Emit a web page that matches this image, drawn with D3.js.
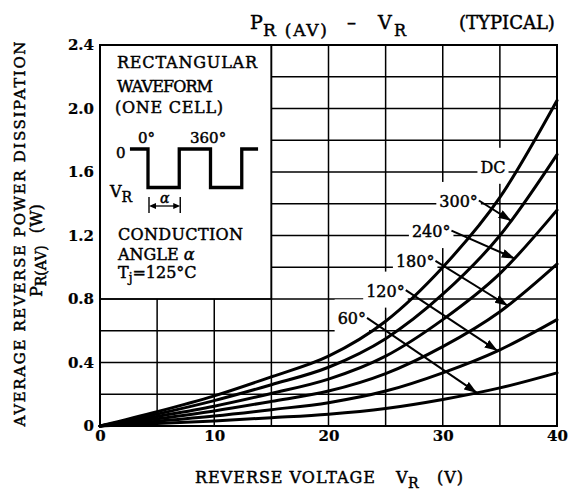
<!DOCTYPE html>
<html><head><meta charset="utf-8">
<script src="https://cdn.jsdelivr.net/npm/d3@7"></script>
<style>
body{margin:0;background:#fff}
svg{display:block}
text{font-family:"DejaVu Serif",serif;fill:#000;stroke:#000;stroke-width:0.45px}
</style>
</head><body>
<svg id="c" width="572" height="498"></svg>
<script>
// ---------- data ----------
const voltages = [0, 5, 10, 15, 20, 25, 30, 35, 40];
const seriesNames = ["DC", "300°", "240°", "180°", "120°", "60°"];
const pDC   = [0, 0.09, 0.19, 0.31, 0.44, 0.66, 1.00, 1.44, 2.05];
const p300  = [0, 0.075, 0.16, 0.26, 0.37, 0.55, 0.83, 1.20, 1.71];
const p240  = [0, 0.06, 0.125, 0.205, 0.295, 0.44, 0.67, 0.96, 1.36];
const p180  = [0, 0.045, 0.095, 0.155, 0.22, 0.33, 0.50, 0.72, 1.02];
const p120  = [0, 0.03, 0.063, 0.103, 0.147, 0.22, 0.335, 0.48, 0.67];
const p60   = [0, 0.015, 0.032, 0.052, 0.074, 0.11, 0.167, 0.24, 0.335];
const seriesValues = [pDC, p300, p240, p180, p120, p60];

const xTicks = [0, 10, 20, 30, 40];
const xTickLabels = ["0", "10", "20", "30", "40"];
const yTicks = [0, 0.4, 0.8, 1.2, 1.6, 2.0, 2.4];
const yTickLabels = ["0", "0.4", "0.8", "1.2", "1.6", "2.0", "2.4"];

// curve labels: text start (V), baseline (W), arrow target voltage on the curve
const labelV = [33.3, 29.7, 27.3, 25.9, 23.3, 20.8];
const labelP = [1.595, 1.38, 1.19, 1.0, 0.815, 0.64];
const arrowTargetV = [null, 36.0, 36.3, 35.7, 34.8, 33.0];

// ---------- chart ----------
const svg = d3.select("#c");
svg.append("rect").attr("width", 572).attr("height", 498).attr("fill", "#fff");

const x = d3.scaleLinear().domain([0, 40]).range([100, 557]);
const y = d3.scaleLinear().domain([0, 2.4]).range([426, 45]);
const insetV = 15, insetP = 0.8;

// grid
const grid = svg.append("g").attr("stroke", "#000").attr("stroke-width", 1.5);
d3.range(1, 8).map(i => i * 5).forEach(v => {
  const top = v < insetV ? y(insetP) : y(2.4);
  grid.append("line").attr("x1", x(v)).attr("x2", x(v)).attr("y1", top).attr("y2", y(0));
});
d3.range(1, 12).map(i => +(i * 0.2).toFixed(1)).forEach(p => {
  const left = p > insetP + 1e-9 ? x(insetV) : x(0);
  grid.append("line").attr("x1", left).attr("x2", x(40)).attr("y1", y(p)).attr("y2", y(p));
});

// axes (labels only)
const yAxis = svg.append("g").attr("transform", `translate(${x(0) - 6},0)`)
  .call(d3.axisLeft(y).tickValues(yTicks).tickFormat((d, i) => yTickLabels[i]).tickSize(0));
yAxis.select(".domain").remove();
yAxis.selectAll("text").attr("font-family", "DejaVu Serif").attr("font-size", 15)
  .attr("font-weight", "bold").attr("dy", "0.3em").attr("x", 0).style("stroke-width", "0.2px");

const xAxis = svg.append("g").attr("transform", `translate(0,${y(0) + 4})`)
  .call(d3.axisBottom(x).tickValues(xTicks).tickFormat((d, i) => xTickLabels[i]).tickSize(0));
xAxis.select(".domain").remove();
xAxis.selectAll("text").attr("font-family", "DejaVu Serif").attr("font-size", 15)
  .attr("font-weight", "bold").attr("dy", "0.71em").attr("y", 0).style("stroke-width", "0.2px");

// label backgrounds + curves + labels
const labelG = svg.append("g");
const curveG = svg.append("g");
const textG = svg.append("g");

const line = d3.line().x((d, i) => x(voltages[i])).y(d => y(d)).curve(d3.curveMonotoneX);
const paths = seriesValues.map(vals =>
  curveG.append("path").attr("d", line(vals)).attr("fill", "none")
    .attr("stroke", "#000").attr("stroke-width", 3).attr("stroke-linecap", "round"));

// plot frame and inset frame
svg.append("rect").attr("x", x(0)).attr("y", y(2.4)).attr("width", x(40) - x(0)).attr("height", y(0) - y(2.4))
  .attr("fill", "none").attr("stroke", "#000").attr("stroke-width", 2);
svg.append("path").attr("d", `M${x(insetV)},${y(2.4)}V${y(insetP)}H${x(0)}`)
  .attr("fill", "none").attr("stroke", "#000").attr("stroke-width", 1.6);

// arrow marker
svg.append("defs").append("marker").attr("id", "ah").attr("markerUnits", "userSpaceOnUse")
  .attr("viewBox", "0 0 13 9").attr("refX", 13).attr("refY", 4.5)
  .attr("markerWidth", 13).attr("markerHeight", 9).attr("orient", "auto")
  .append("path").attr("d", "M0,0L13,4.5L0,9z").attr("fill", "#000");

function pointAtV(path, v) {
  const node = path.node(), L = node.getTotalLength(), tx = x(v);
  let lo = 0, hi = L;
  for (let k = 0; k < 40; k++) {
    const mid = (lo + hi) / 2;
    if (node.getPointAtLength(mid).x < tx) lo = mid; else hi = mid;
  }
  return node.getPointAtLength((lo + hi) / 2);
}

seriesNames.forEach((name, i) => {
  const t = textG.append("text").attr("x", x(labelV[i])).attr("y", y(labelP[i]))
    .attr("font-size", 16).text(name);
  const bb = t.node().getBBox();
  labelG.append("rect").attr("x", bb.x - 3).attr("y", bb.y - 10)
    .attr("width", bb.width + 6).attr("height", bb.height + 17).attr("fill", "#fff");
  if (arrowTargetV[i] != null) {
    const p = pointAtV(paths[i], arrowTargetV[i]);
    textG.append("line").attr("x1", bb.x + bb.width + 1).attr("y1", bb.y + bb.height * 0.45)
      .attr("x2", p.x).attr("y2", p.y).attr("stroke", "#000").attr("stroke-width", 2)
      .attr("marker-end", "url(#ah)");
  }
});

// ---------- inset legend ----------
const inset = svg.append("g").attr("font-size", 16);
inset.append("text").attr("x", 117).attr("y", 68).attr("textLength", 140).text("RECTANGULAR");
inset.append("text").attr("x", 117).attr("y", 92).attr("textLength", 96).text("WAVEFORM");
inset.append("text").attr("x", 115).attr("y", 113).attr("textLength", 108).text("(ONE CELL)");
inset.append("text").attr("x", 118).attr("y", 240).attr("textLength", 125).text("CONDUCTION");
const ang = inset.append("text").attr("x", 118).attr("y", 260);
ang.append("tspan").text("ANGLE ");
ang.append("tspan").attr("font-style", "italic").text("α");
const tj = inset.append("text").attr("x", 118).attr("y", 278);
tj.append("tspan").text("T");
tj.append("tspan").attr("font-size", 12).attr("dy", 4).text("j");
tj.append("tspan").attr("dy", -4).text("=125°C");

// waveform illustration (phase in degrees -> local x)
const phase = d3.scaleLinear().domain([0, 360]).range([148, 210.5]);
const wfHigh = 149, wfLow = 187.5;
const wfPts = [[-104, wfHigh], [0, wfHigh], [0, wfLow], [180, wfLow], [180, wfHigh], [360, wfHigh],
  [360, wfLow], [540, wfLow], [540, wfHigh], [634, wfHigh]];
inset.append("path").attr("d", d3.line().x(d => phase(d[0])).y(d => d[1])(wfPts))
  .attr("fill", "none").attr("stroke", "#000").attr("stroke-width", 3.3).attr("stroke-linejoin", "miter");
inset.append("text").attr("x", 138).attr("y", 143).attr("font-size", 15).text("0°");
inset.append("text").attr("x", 190).attr("y", 143).attr("font-size", 15).text("360°");
inset.append("text").attr("x", 116).attr("y", 158).attr("font-size", 15).text("0");
const vr = inset.append("text").attr("x", 110).attr("y", 197).attr("font-size", 16);
vr.append("tspan").text("V");
vr.append("tspan").attr("font-size", 14).attr("dy", 5).text("R");
// alpha bracket
const bY = 206, bL = phase(0) + 1, bR = phase(180) + 1;
inset.append("line").attr("x1", bL).attr("x2", bL).attr("y1", 197).attr("y2", 213).attr("stroke", "#000").attr("stroke-width", 1.4);
inset.append("line").attr("x1", bR).attr("x2", bR).attr("y1", 197).attr("y2", 213).attr("stroke", "#000").attr("stroke-width", 1.4);
inset.append("path").attr("d", `M${bL},${bY}l7,-3v6z M${bR},${bY}l-7,-3v6z`).attr("fill", "#000");
inset.append("line").attr("x1", bL + 6).attr("x2", bR - 6).attr("y1", bY).attr("y2", bY).attr("stroke", "#000").attr("stroke-width", 1.3);
inset.append("text").attr("x", 160).attr("y", 203).attr("font-size", 14).attr("font-style", "italic").text("α");

// ---------- titles ----------
const title = svg.append("g");
title.append("text").attr("x", 250).attr("y", 29).attr("font-size", 19).text("P");
title.append("text").attr("x", 263).attr("y", 36).attr("font-size", 17).attr("textLength", 64).text("R (AV)");
title.append("text").attr("x", 347).attr("y", 29).attr("font-size", 18).text("–");
title.append("text").attr("x", 378).attr("y", 29).attr("font-size", 19).text("V");
title.append("text").attr("x", 394).attr("y", 36).attr("font-size", 16).text("R");
title.append("text").attr("x", 459).attr("y", 29).attr("font-size", 18).text("(TYPICAL)");

const xt = svg.append("g").attr("font-size", 16);
xt.append("text").attr("x", 195).attr("y", 483).attr("textLength", 180).text("REVERSE VOLTAGE");
xt.append("text").attr("x", 396).attr("y", 483).text("V");
xt.append("text").attr("x", 408).attr("y", 488).attr("font-size", 14).text("R");
xt.append("text").attr("x", 437).attr("y", 483).attr("textLength", 26).text("(V)");

svg.append("text").attr("transform", "translate(25,234) rotate(-90)")
  .attr("text-anchor", "middle").attr("font-size", 15).attr("textLength", 385)
  .text("AVERAGE REVERSE POWER DISSIPATION");
const yt2 = svg.append("text").attr("transform", "translate(42,297) rotate(-90)").attr("font-size", 16);
yt2.append("tspan").text("P");
yt2.append("tspan").attr("font-size", 14).attr("dy", 4).text("R(AV)");
yt2.append("tspan").attr("dy", -4).attr("dx", 12).text("(W)");
</script>
</body></html>
